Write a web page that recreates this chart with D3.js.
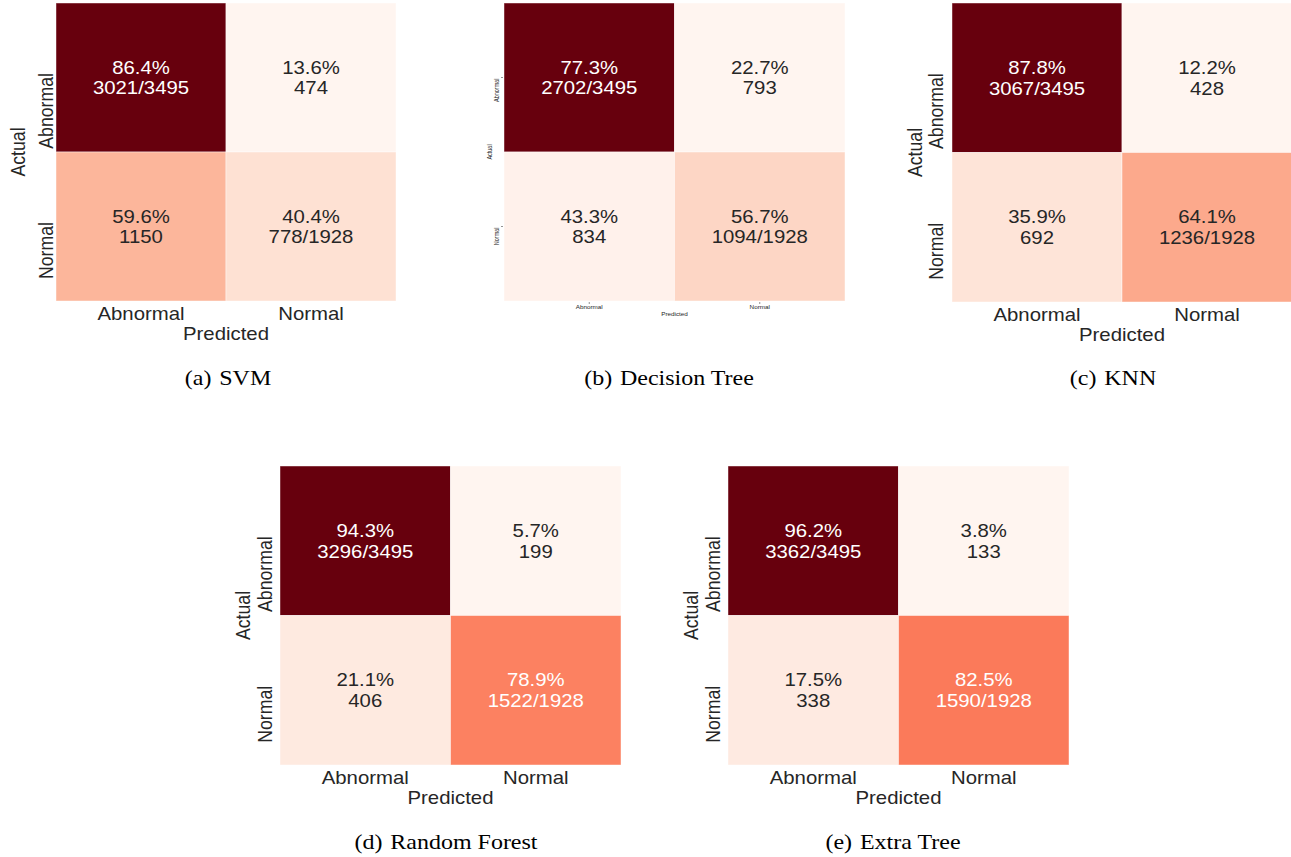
<!DOCTYPE html>
<html>
<head>
<meta charset="utf-8">
<script src="https://cdn.jsdelivr.net/npm/d3@7"></script>
<style>
  body { margin: 0; background: #ffffff; }
  svg { display: block; }
</style>
</head>
<body>
<svg id="chart" width="1291" height="857"></svg>
<script>
// Class labels (rows = actual, columns = predicted)
const classes = ["Abnormal", "Normal"];
const modelNames = ["SVM", "Decision Tree", "KNN", "Random Forest", "Extra Tree"];
const captionLetters = ["a", "b", "c", "d", "e"];

// Confusion-matrix counts per model: [[AA, AN], [NA, NN]]
const svmCounts = [[3021, 474], [1150, 778]];
const dtCounts  = [[2702, 793], [834, 1094]];
const knnCounts = [[3067, 428], [692, 1236]];
const rfCounts  = [[3296, 199], [406, 1522]];
const etCounts  = [[3362, 133], [338, 1590]];
const matrices = [svmCounts, dtCounts, knnCounts, rfCounts, etCounts];

// Panel placement on the page
const panels = [
  { x0: 56,  x1: 396,  y0: 3,   y1: 301, capX: 228,  capY: 385, tickDx: -3, titleDx: -31, small: false },
  { x0: 504, x1: 845,  y0: 3,   y1: 301, capX: 669,  capY: 385, tickDx: -5, titleDx: -12, small: true },
  { x0: 952, x1: 1292, y0: 3,   y1: 302, capX: 1113, capY: 385, tickDx: -9, titleDx: -30, small: false },
  { x0: 280, x1: 621,  y0: 466, y1: 765, capX: 446,  capY: 849, tickDx: -8, titleDx: -30, small: false },
  { x0: 728, x1: 1069, y0: 466, y1: 765, capX: 893,  capY: 849, tickDx: -8, titleDx: -30, small: false }
];

// matplotlib "Reds" colormap (piecewise linear through the ColorBrewer stops)
const redsStops = ["#fff5f0", "#fee0d2", "#fcbba1", "#fc9272", "#fb6a4a",
                   "#ef3b2c", "#cb181d", "#a50f15", "#67000d"];
const reds = d3.scaleLinear()
  .domain(redsStops.map((_, i) => i / (redsStops.length - 1)))
  .range(redsStops)
  .interpolate(d3.interpolateRgb)
  .clamp(true);

function luminance(c) {
  const rgb = d3.rgb(c);
  const lin = v => { v /= 255; return v <= 0.03928 ? v / 12.92 : Math.pow((v + 0.055) / 1.055, 2.4); };
  return 0.2126 * lin(rgb.r) + 0.7152 * lin(rgb.g) + 0.0722 * lin(rgb.b);
}

const svg = d3.select("#chart");
const SX = 1.15;             // horizontal stretch of the figure text
const FONT = "'Liberation Sans', Arial, Helvetica, sans-serif";
const INK = "#262626";

matrices.forEach((m, k) => {
  const p = panels[k];
  const g = svg.append("g");

  const x = d3.scaleBand().domain(classes).range([p.x0, p.x1]);
  const y = d3.scaleBand().domain(classes).range([p.y0, p.y1]);

  const flat = m.flat();
  const color = d3.scaleLinear().domain(d3.extent(flat)).range([0, 1]);
  const rowTotals = m.map(r => d3.sum(r));

  const cells = [];
  m.forEach((row, i) => row.forEach((v, j) => cells.push({ i, j, v })));

  g.selectAll("rect.cell").data(cells).join("rect")
    .attr("class", "cell")
    .attr("x", d => x(classes[d.j]))
    .attr("y", d => y(classes[d.i]))
    .attr("width", x.bandwidth())
    .attr("height", y.bandwidth())
    .attr("fill", d => reds(color(d.v)))
    .attr("stroke", "#ffffff")
    .attr("stroke-opacity", 0.55)
    .attr("stroke-width", 0.8);

  // Annotations: row percentage plus count (count/total on the diagonal)
  const ann = g.selectAll("text.ann").data(cells).join("text")
    .attr("class", "ann")
    .attr("transform", d => {
      const cx = x(classes[d.j]) + x.bandwidth() / 2;
      const cy = y(classes[d.i]) + y.bandwidth() / 2;
      return `translate(${cx},${cy}) scale(${SX},1)`;
    })
    .attr("text-anchor", "middle")
    .style("font-family", FONT)
    .style("font-size", "17.7px")
    .attr("fill", d => luminance(reds(color(d.v))) > 0.408 ? INK : "#ffffff");
  ann.append("tspan").attr("x", 0).attr("y", -4)
    .text(d => (100 * d.v / rowTotals[d.i]).toFixed(1) + "%");
  ann.append("tspan").attr("x", 0).attr("y", 17)
    .text(d => d.i === d.j ? `${d.v}/${rowTotals[d.i]}` : `${d.v}`);

  const fs = p.small ? 5.5 : 17.7;
  const xTickDy = p.small ? 8 : 19;
  const xTitleDy = p.small ? 15 : 39;
  const yAnchorOff = p.small ? 1 : -4.5;

  // x tick labels
  g.selectAll("text.xt").data(classes).join("text")
    .attr("class", "xt")
    .attr("transform", d => `translate(${x(d) + x.bandwidth() / 2},${p.y1 + xTickDy}) scale(${SX},1)`)
    .attr("text-anchor", "middle")
    .style("font-family", FONT).style("font-size", fs + "px")
    .attr("fill", INK)
    .text(d => d);

  // y tick labels (rotated)
  g.selectAll("text.yt").data(classes).join("text")
    .attr("class", "yt")
    .attr("transform", d => `translate(${p.x0 + p.tickDx},${y(d) + y.bandwidth() / 2 + yAnchorOff}) scale(${SX},1) rotate(-90)`)
    .attr("text-anchor", "end")
    .style("font-family", FONT).style("font-size", fs + "px")
    .attr("fill", INK)
    .text(d => d);

  if (p.small) {
    // small tick marks
    g.selectAll("line.xtick").data(classes).join("line")
      .attr("x1", d => x(d) + x.bandwidth() / 2).attr("x2", d => x(d) + x.bandwidth() / 2)
      .attr("y1", p.y1 + 1).attr("y2", p.y1 + 3)
      .attr("stroke", INK).attr("stroke-width", 0.5);
    g.selectAll("line.ytick").data(classes).join("line")
      .attr("y1", d => y(d) + y.bandwidth() / 2).attr("y2", d => y(d) + y.bandwidth() / 2)
      .attr("x1", p.x0 - 3).attr("x2", p.x0 - 1)
      .attr("stroke", INK).attr("stroke-width", 0.5);
  }

  // axis titles
  g.append("text")
    .attr("transform", `translate(${(p.x0 + p.x1) / 2},${p.y1 + xTitleDy}) scale(${SX},1)`)
    .attr("text-anchor", "middle")
    .style("font-family", FONT).style("font-size", fs + "px")
    .attr("fill", INK)
    .text("Predicted");
  g.append("text")
    .attr("transform", `translate(${p.x0 + p.titleDx},${(p.y0 + p.y1) / 2}) scale(${SX},1) rotate(-90)`)
    .attr("text-anchor", "middle")
    .style("font-family", FONT).style("font-size", fs + "px")
    .attr("fill", INK)
    .text("Actual");

  // sub-figure caption: "(x)" label, a separator gap, then the model name
  const cap = svg.append("text")
    .attr("transform", `translate(${p.capX},${p.capY}) scale(1.2,1)`)
    .attr("text-anchor", "middle")
    .style("font-family", "'Liberation Serif', 'Times New Roman', serif")
    .style("font-size", "20px")
    .attr("fill", "#000000");
  cap.append("tspan").text(`(${captionLetters[k]})`);
  cap.append("tspan").attr("dx", 6.5).text(modelNames[k]);
});
</script>
</body>
</html>
